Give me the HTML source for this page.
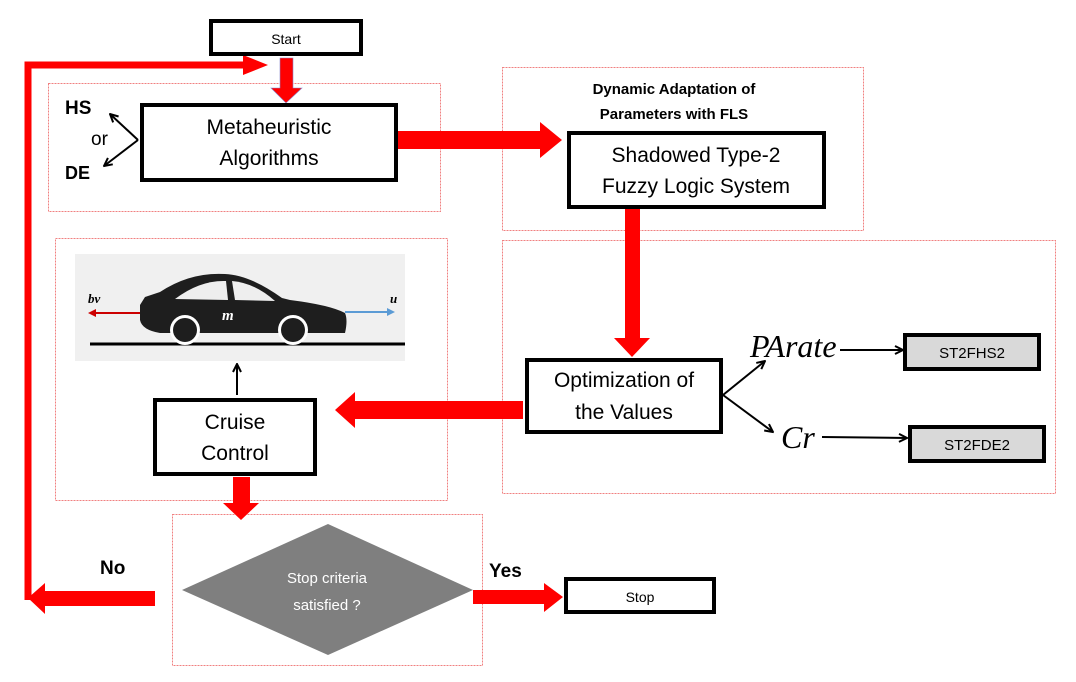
<!DOCTYPE html>
<html><head><meta charset="utf-8"><style>
html,body{margin:0;padding:0;background:#fff;}
svg{display:block;font-family:"Liberation Sans",sans-serif;}
</style></head><body>
<svg width="1076" height="682" viewBox="0 0 1076 682" xmlns="http://www.w3.org/2000/svg">
<defs>
<marker id="ah" markerWidth="10" markerHeight="10" refX="9" refY="5" orient="auto" markerUnits="userSpaceOnUse"><path d="M1,1 L9,5 L1,9" fill="none" stroke="#000" stroke-width="2"/></marker>
</defs>
<g fill="none" stroke="#f08080" stroke-width="1" stroke-dasharray="2,1">
<rect x="48.5" y="83.5" width="392" height="128"/>
<rect x="502.5" y="67.5" width="361" height="163"/>
<rect x="502.5" y="240.5" width="553" height="253"/>
<rect x="55.5" y="238.5" width="392" height="262"/>
<rect x="172.5" y="514.5" width="310" height="151"/>
</g>
<path d="M28,600 L28,65 L245,65" fill="none" stroke="#f00" stroke-width="7"/>
<polygon points="243,55 268,65 243,75" fill="#f00"/>
<polygon points="280,58 293,58 293,88 302,88 286,103 271,88 280,88" fill="#f00" stroke="#8888cc" stroke-width="0.6"/>
<polygon points="398,131 540,131 540,122 562,140 540,158 540,149 398,149" fill="#f00"/>
<polygon points="625,208 640,208 640,338 650,338 632,357 614,338 625,338" fill="#f00"/>
<polygon points="523,401 355,401 355,392 335,410 355,428 355,419 523,419" fill="#f00"/>
<polygon points="233,477 250,477 250,503 259,503 241,520 223,503 233,503" fill="#f00"/>
<polygon points="155,591 45,591 45,583 28,598 45,614 45,606 155,606" fill="#f00"/>
<polygon points="473,590 544,590 544,583 563,597 544,612 544,604 473,604" fill="#f00"/>
<g fill="#fff" stroke="#000" stroke-width="4">
<rect x="211" y="21" width="150" height="33"/>
<rect x="142" y="105" width="254" height="75"/>
<rect x="569" y="133" width="255" height="74"/>
<rect x="527" y="360" width="194" height="72"/>
<rect x="155" y="400" width="160" height="74"/>
<rect x="566" y="579" width="148" height="33"/>
</g>
<g fill="#d9d9d9" stroke="#000" stroke-width="4">
<rect x="905" y="335" width="134" height="34"/>
<rect x="910" y="427" width="134" height="34"/>
</g>
<polygon points="182,590 328,524 473,590 328,655" fill="#7f7f7f"/>
<g stroke="#000" stroke-width="2" fill="none" marker-end="url(#ah)">
<path d="M138,140 L110,114"/>
<path d="M138,140 L104,166"/>
<path d="M723,395 L765,361"/>
<path d="M723,395 L773,432"/>
<path d="M840,350 L903,350"/>
<path d="M822,437 L907,438"/>
<path d="M237,395 L237,364"/>
</g>
<rect x="75" y="254" width="330" height="107" fill="#f0f0f0"/>
<line x1="90" y1="344" x2="405" y2="344" stroke="#000" stroke-width="3"/>
<path d="M140,305 L140,320 Q142,330 160,333 L345,333 Q348,320 345,313 Q330,305 290,300 L282,298 Q250,275 225,274 Q190,272 160,292 L145,297 Z" fill="#1e1e1e"/>
<path d="M175,299 Q200,280 226,281 L228,300 Z" fill="#eee"/>
<path d="M232,281 Q255,283 275,301 L235,300 Z" fill="#eee"/>
<circle cx="185" cy="330" r="15" fill="#fff"/><circle cx="185" cy="330" r="12" fill="#1e1e1e"/>
<circle cx="293" cy="330" r="15" fill="#fff"/><circle cx="293" cy="330" r="12" fill="#1e1e1e"/>
<line x1="140" y1="313" x2="92" y2="313" stroke="#c00" stroke-width="2"/><polygon points="88,313 96,309 96,317" fill="#c00"/>
<line x1="345" y1="312" x2="390" y2="312" stroke="#5b9bd5" stroke-width="2"/><polygon points="395,312 387,308 387,316" fill="#5b9bd5"/>
<text x="88" y="303" font-family="Liberation Serif,serif" font-style="italic" font-weight="bold" font-size="13">bv</text>
<text x="390" y="303" font-family="Liberation Serif,serif" font-style="italic" font-weight="bold" font-size="13">u</text>
<text x="222" y="320" font-family="Liberation Serif,serif" font-style="italic" font-weight="bold" font-size="15" fill="#fff">m</text>
<g text-anchor="middle" fill="#000">
<text x="286" y="44" font-size="14">Start</text>
<text x="269" y="134" font-size="21">Metaheuristic</text>
<text x="269" y="165" font-size="21">Algorithms</text>
<text x="674" y="94" font-size="15" font-weight="bold">Dynamic Adaptation of</text>
<text x="674" y="119" font-size="15" font-weight="bold">Parameters with FLS</text>
<text x="696" y="162" font-size="21">Shadowed Type-2</text>
<text x="696" y="193" font-size="21">Fuzzy Logic System</text>
<text x="624" y="387" font-size="21">Optimization of</text>
<text x="624" y="419" font-size="21">the Values</text>
<text x="235" y="429" font-size="21">Cruise</text>
<text x="235" y="460" font-size="21">Control</text>
<text x="972" y="358" font-size="15">ST2FHS2</text>
<text x="977" y="450" font-size="15">ST2FDE2</text>
<text x="640" y="602" font-size="14">Stop</text>
<text x="327" y="583" font-size="15" fill="#fff">Stop criteria</text>
<text x="327" y="610" font-size="15" fill="#fff">satisfied ?</text>
</g>
<text x="65" y="114" font-size="19" font-weight="bold">HS</text>
<text x="91" y="145" font-size="19">or</text>
<text x="65" y="179" font-size="18" font-weight="bold">DE</text>
<text x="750" y="357" font-family="Liberation Serif,serif" font-style="italic" font-size="32">PArate</text>
<text x="781" y="448" font-family="Liberation Serif,serif" font-style="italic" font-size="32">Cr</text>
<text x="100" y="574" font-size="19" font-weight="bold">No</text>
<text x="489" y="577" font-size="19" font-weight="bold">Yes</text>
</svg>
</body></html>
